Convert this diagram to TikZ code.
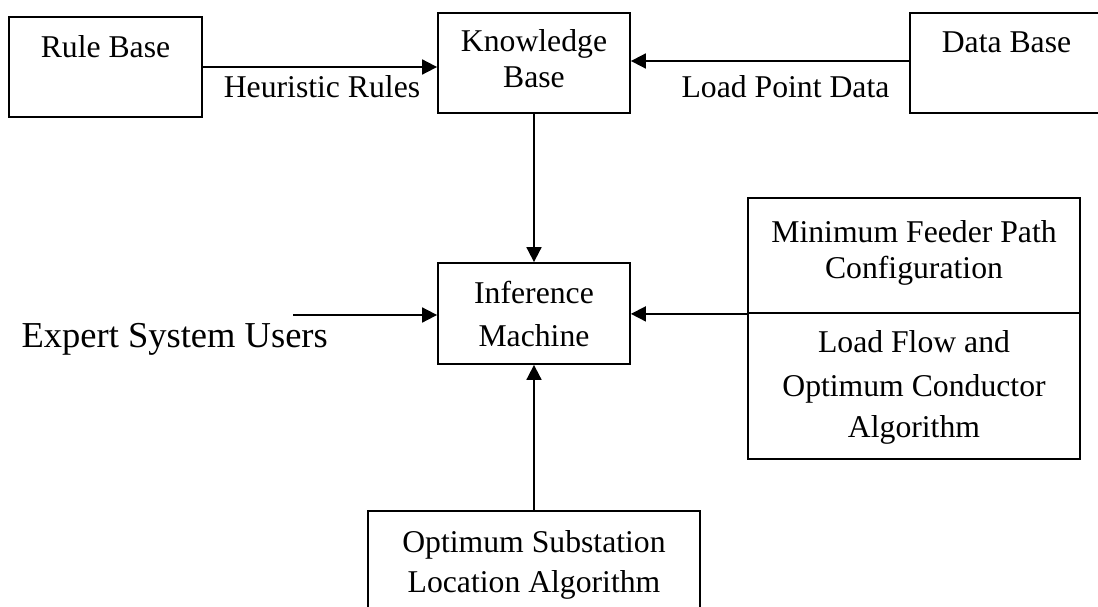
\documentclass[tikz,border=0pt]{standalone}
\usepackage{fontspec}
\setmainfont{Liberation Serif}
\usetikzlibrary{arrows.meta}

\begin{document}
\begin{tikzpicture}[
    x=1pt, y=-1pt,
    box/.style={draw, line width=1.8pt, inner sep=0pt},
    arr/.style={line width=1.8pt, -{Triangle[length=15pt,width=15pt]}},
    txt/.style={anchor=base, inner sep=0pt, font=\fontsize{31.7}{36}\selectfont},
    bigtxt/.style={txt, font=\fontsize{36.5}{40}\selectfont},
  ]
  \path[use as bounding box, clip] (0,0) rectangle (1098,607);

  % boxes
  \node[box, minimum width=193pt, minimum height=100pt] (rule) at (105.5,67) {};
  \node[box, minimum width=192pt, minimum height=100pt] (kb)   at (534,63) {};
  \node[box, minimum width=193pt, minimum height=100pt] (db)   at (1006.5,63) {};
  \node[box, minimum width=192pt, minimum height=101pt] (inf)  at (534,313.5) {};
  \node[box, minimum width=332pt, minimum height=115pt] (mfp)  at (914,255.5) {};
  \node[box, minimum width=332pt, minimum height=146pt] (lf)   at (914,386) {};
  \node[box, minimum width=332pt, minimum height=110pt] (osl)  at (534,566) {};

  % texts
  \node[txt] (t-rule) at (105.5,58) {Rule Base};
  \node[txt] (t-heur) at (322,98)   {Heuristic Rules};
  \node[txt] (t-kb1)  at (534,52)   {Knowledge};
  \node[txt] (t-kb2)  at (534,88)   {Base};
  \node[txt] (t-load) at (785.5,98) {Load Point Data};
  \node[txt] (t-db)   at (1006.5,53) {Data Base};
  \node[txt] (t-inf1) at (534,303)  {Inference};
  \node[txt] (t-inf2) at (534,346)  {Machine};
  \node[bigtxt, anchor=base east] (t-user) at (328,347) {Expert System Users};
  \node[txt] (t-mfp1) at (914,242)  {Minimum Feeder Path};
  \node[txt] (t-mfp2) at (914,278)  {Configuration};
  \node[txt] (t-lf1)  at (914,352)  {Load Flow and};
  \node[txt] (t-lf2)  at (914,396)  {Optimum Conductor};
  \node[txt] (t-lf3)  at (914,437)  {Algorithm};
  \node[txt] (t-osl1) at (534,552)  {Optimum Substation};
  \node[txt] (t-osl2) at (534,592)  {Location Algorithm};

  % connectors
  \coordinate (usr) at (293,315);
  \draw[arr] (rule.east) -- (rule.east -| kb.west);
  \draw[arr] ([yshift=2pt]db.west) -- ([yshift=2pt]db.west -| kb.east);
  \draw[arr] (kb.south) -- (inf.north);
  \draw[arr] (usr) -- (usr -| inf.west);
  \draw[arr] (mfp.south west) -- (mfp.south west -| inf.east);
  \draw[arr] (osl.north) -- (inf.south);
\end{tikzpicture}
\end{document}
